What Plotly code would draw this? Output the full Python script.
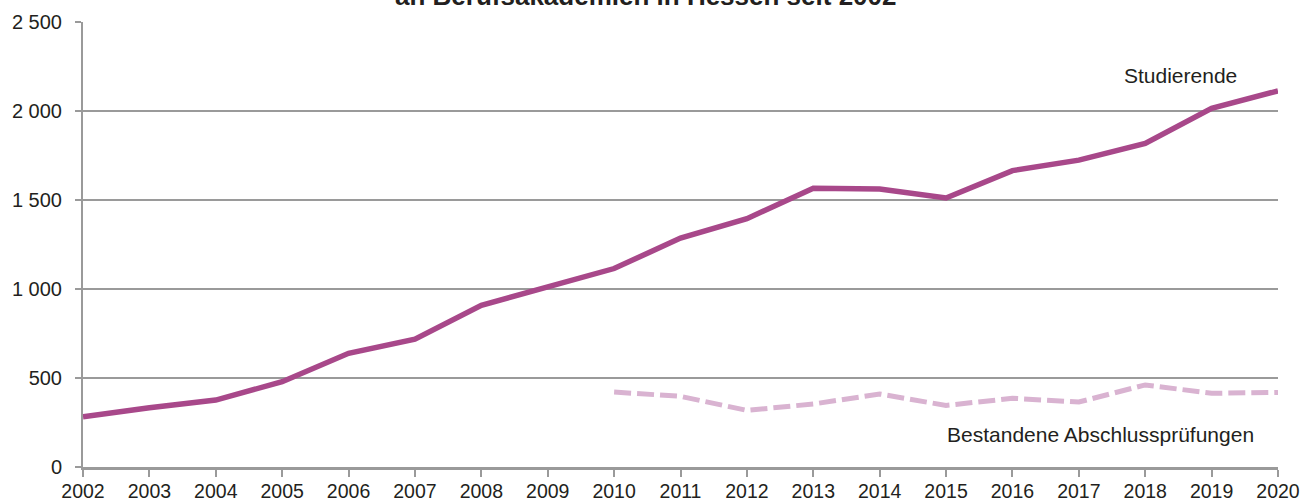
import plotly.graph_objects as go

years = list(range(2002, 2021))
studierende = [282, 333, 376, 479, 639, 718, 908, 1015, 1115, 1286, 1395, 1566, 1562, 1511, 1665, 1724, 1818, 2015, 2113]
abschluss_years = list(range(2010, 2021))
abschluss = [421, 397, 318, 354, 410, 346, 386, 365, 461, 414, 419]

y_tickvals = [0, 500, 1000, 1500, 2000, 2500]
y_ticktext = ["0", "500", "1 000", "1 500", "2 000", "2 500"]
x_ticktext = [str(y) for y in years]

title_line = "an Berufsakademien in Hessen seit 2002"
label_stud = "Studierende"
label_abs = "Bestandene Abschlussprüfungen"

FONT = "Liberation Sans, Arial, sans-serif"
TXT = "#231f20"
GRID = "#9a9a9a"

fig = go.Figure()
fig.add_trace(go.Scatter(
    x=abschluss_years, y=abschluss, mode="lines",
    line=dict(color="#d9b3d1", width=5, dash="17px,6px"),
    hoverinfo="skip"))
fig.add_trace(go.Scatter(
    x=years, y=studierende, mode="lines",
    line=dict(color="#a8488a", width=5.5),
    hoverinfo="skip"))

fig.update_layout(
    width=1302, height=502,
    margin=dict(l=83, r=24, t=22, b=35, autoexpand=False),
    paper_bgcolor="white", plot_bgcolor="white",
    showlegend=False,
    font=dict(family=FONT, color=TXT, size=20),
    xaxis=dict(
        range=[2002, 2020], tickmode="array", tickvals=years, ticktext=x_ticktext,
        showgrid=False, zeroline=False, showline=True, linecolor=GRID, linewidth=2.5,
        ticks="outside", ticklen=7, tickwidth=2, tickcolor=GRID, automargin=False,
        tickfont=dict(size=19.5, family=FONT, color=TXT), ticklabelstandoff=-2,
    ),
    yaxis=dict(
        range=[0, 2500], tickmode="array", tickvals=y_tickvals, ticktext=y_ticktext,
        showgrid=True, gridcolor=GRID, gridwidth=2, zeroline=False,
        showline=True, linecolor=GRID, linewidth=2, automargin=False,
        ticks="outside", ticklen=6, tickwidth=2, tickcolor=GRID,
        tickfont=dict(size=20, family=FONT, color=TXT), ticklabelstandoff=9,
    ),
    annotations=[
        dict(text="<b>" + title_line + "</b>", xref="paper", yref="paper",
             x=(645 - 83) / (1302 - 83 - 24), y=1, xanchor="center", yanchor="bottom",
             yshift=9, showarrow=False, font=dict(size=26, family=FONT, color=TXT)),
        dict(text=label_stud, xref="paper", yref="y", x=(1180 - 83) / 1195, y=2202,
             xanchor="center", yanchor="middle", showarrow=False,
             font=dict(size=21, family=FONT, color=TXT)),
        dict(text=label_abs, xref="paper", yref="y", x=(1100 - 83) / 1195, y=180,
             xanchor="center", yanchor="middle", showarrow=False,
             font=dict(size=21, family=FONT, color=TXT)),
    ],
)

fig.write_html("out.html", config={"displayModeBar": False},
               post_script="document.body.style.margin='0';")
